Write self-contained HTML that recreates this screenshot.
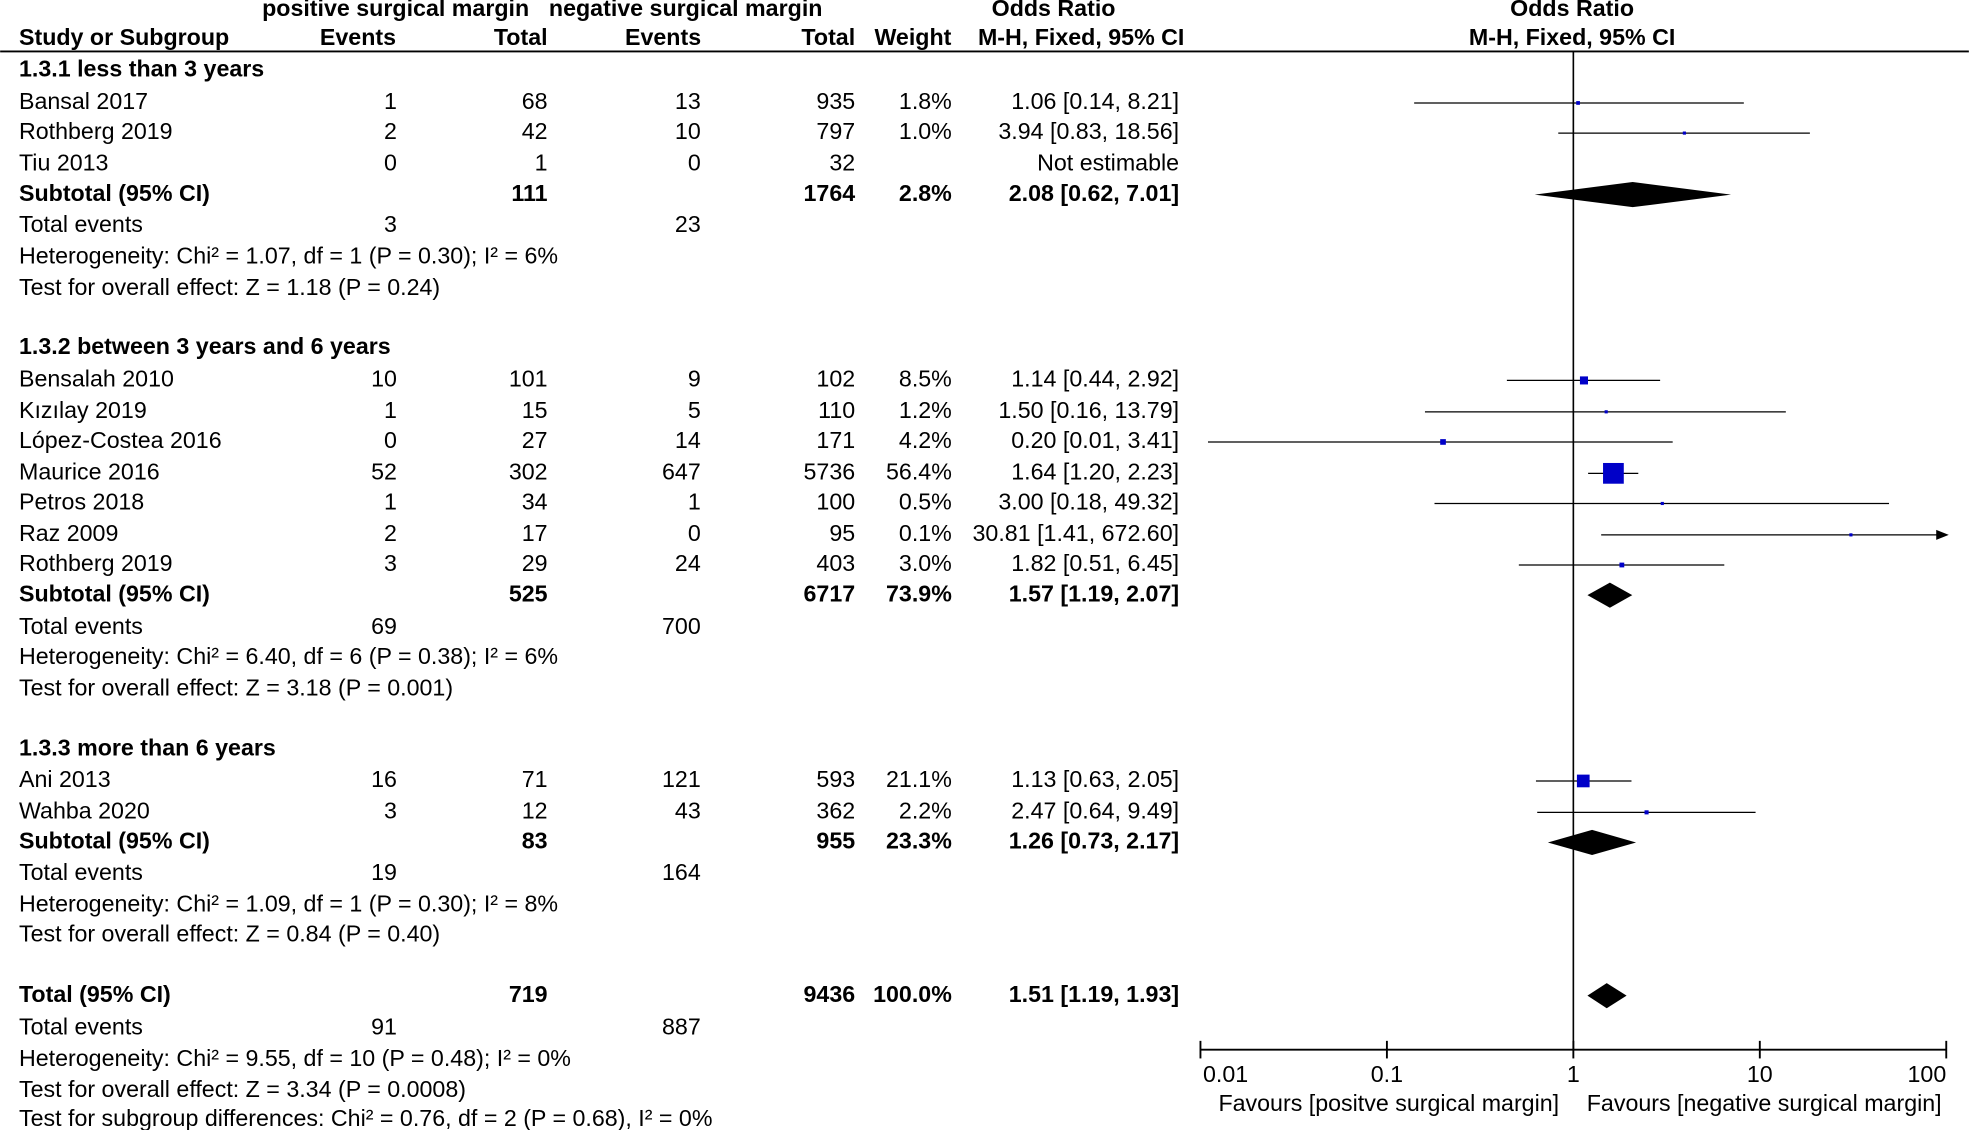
<!DOCTYPE html>
<html><head><meta charset="utf-8"><style>
html,body{margin:0;padding:0;background:#fff}
svg{display:block}
text{font-family:"Liberation Sans",Arial,sans-serif;font-size:18.5px;fill:#000;dominant-baseline:middle}
.b{font-weight:bold}
.r{text-anchor:end}
.c{text-anchor:middle}
</style></head><body>
<svg id="plot" width="1969" height="1130" viewBox="0 0 1568 900" xmlns="http://www.w3.org/2000/svg">
<g>
<text x="315" y="8" class="c b">positive surgical margin</text>
<text x="546" y="8" class="c b">negative surgical margin</text>
<text x="839" y="8" class="c b">Odds Ratio</text>
<text x="1252" y="8" class="c b">Odds Ratio</text>
<text x="15" y="31" class="b">Study or Subgroup</text>
<text x="285" y="31" class="c b">Events</text>
<text x="436" y="31" class="r b">Total</text>
<text x="528" y="31" class="c b">Events</text>
<text x="681" y="31" class="r b">Total</text>
<text x="727" y="31" class="c b">Weight</text>
<text x="861" y="31" class="c b">M-H, Fixed, 95% CI</text>
<text x="1252" y="31" class="c b">M-H, Fixed, 95% CI</text>
</g>
<line x1="0" y1="41" x2="1568" y2="41" stroke="#000" stroke-width="1.5"/>
<g id="table"></g>
<g id="marks"></g>
<g id="axis"></g>
<text x="1106" y="880" class="c">Favours [positve surgical margin]</text>
<text x="1405" y="880" class="c">Favours [negative surgical margin]</text>
</svg>
<script>
// type: h=heading, s=study, t=subtotal, e=total events, x=plain text
const rowType = ["h","s","s","s","t","e","x","x","h","s","s","s","s","s","s","s","t","e","x","x","h","s","s","t","e","x","x","t","e","x","x","x"];
const rowY = [56,82,106,131,155,180,205,230,277,303,328,352,377,401,426,450,474,500,524,549,597,622,647,671,696,721,745,793,819,844,869,892];
const labels = ["1.3.1 less than 3 years","Bansal 2017","Rothberg 2019","Tiu 2013","Subtotal (95% CI)","Total events","Heterogeneity: Chi² = 1.07, df = 1 (P = 0.30); I² = 6%","Test for overall effect: Z = 1.18 (P = 0.24)",
"1.3.2 between 3 years and 6 years","Bensalah 2010","Kızılay 2019","López-Costea 2016","Maurice 2016","Petros 2018","Raz 2009","Rothberg  2019","Subtotal (95% CI)","Total events","Heterogeneity: Chi² = 6.40, df = 6 (P = 0.38); I² = 6%","Test for overall effect: Z = 3.18 (P = 0.001)",
"1.3.3 more than 6 years","Ani 2013","Wahba 2020","Subtotal (95% CI)","Total events","Heterogeneity: Chi² = 1.09, df = 1 (P = 0.30); I² = 8%","Test for overall effect: Z = 0.84 (P = 0.40)",
"Total (95% CI)","Total events","Heterogeneity: Chi² = 9.55, df = 10 (P = 0.48); I² = 0%","Test for overall effect: Z = 3.34 (P = 0.0008)","Test for subgroup differences: Chi² = 0.76, df = 2 (P = 0.68), I² = 0%"];
const ev1 = ["","1","2","0","","3","","","","10","1","0","52","1","2","3","","69","","","","16","3","","19","","","","91","","",""];
const tot1 = ["","68","42","1","111","","","","","101","15","27","302","34","17","29","525","","","","","71","12","83","","","","719","","","",""];
const ev2 = ["","13","10","0","","23","","","","9","5","14","647","1","0","24","","700","","","","121","43","","164","","","","887","","",""];
const tot2 = ["","935","797","32","1764","","","","","102","110","171","5736","100","95","403","6717","","","","","593","362","955","","","","9436","","","",""];
const weight = [null,1.8,1.0,null,2.8,null,null,null,null,8.5,1.2,4.2,56.4,0.5,0.1,3.0,73.9,null,null,null,null,21.1,2.2,23.3,null,null,null,100.0,null,null,null,null];
const orVal = [null,1.06,3.94,null,2.08,null,null,null,null,1.14,1.50,0.20,1.64,3.00,30.81,1.82,1.57,null,null,null,null,1.13,2.47,1.26,null,null,null,1.51,null,null,null,null];
const ciLo = [null,0.14,0.83,null,0.62,null,null,null,null,0.44,0.16,0.01,1.20,0.18,1.41,0.51,1.19,null,null,null,null,0.63,0.64,0.73,null,null,null,1.19,null,null,null,null];
const ciHi = [null,8.21,18.56,null,7.01,null,null,null,null,2.92,13.79,3.41,2.23,49.32,672.60,6.45,2.07,null,null,null,null,2.05,9.49,2.17,null,null,null,1.93,null,null,null,null];
const ticks = [0.01,0.1,1,10,100];
const tickLabels = ["0.01","0.1","1","10","100"];

const NS="http://www.w3.org/2000/svg";
const X0=956,X1=1550,AXY=836;
function xs(v){return X0+(Math.log10(v)+2)/4*(X1-X0);}
function mk(tag,attrs,parent,txt){const e=document.createElementNS(NS,tag);for(const k in attrs)e.setAttribute(k,attrs[k]);if(txt!==undefined)e.textContent=txt;parent.appendChild(e);return e;}
const table=document.getElementById('table'),marks=document.getElementById('marks'),axis=document.getElementById('axis');
function fmt(v){return v.toFixed(2);}
for(let i=0;i<rowY.length;i++){
  const y=rowY[i],t=rowType[i],bold=(t==="h"||t==="t");
  const cls=bold?"b":"";
  let el=mk('text',{x:15,y:y,class:cls},table,labels[i]);
  
  
  const cols=[[ev1[i],316],[tot1[i],436],[ev2[i],558],[tot2[i],681]];
  for(const [v,x] of cols){ if(v){ el=mk('text',{x:x,y:y,class:'r '+cls},table,v);
    
    }}
  if(weight[i]!==null){ el=mk('text',{x:758,y:y,class:'r '+cls},table,weight[i].toFixed(1)+'%');
    
    }
  if(orVal[i]!==null){ el=mk('text',{x:939,y:y,class:'r '+cls},table,fmt(orVal[i])+' ['+fmt(ciLo[i])+', '+fmt(ciHi[i])+']');
    
    }
  else if(t==="s" && tot1[i] && weight[i]===null){ el=mk('text',{x:939,y:y,class:'r'},table,'Not estimable');
    
    }
  if(orVal[i]===null) continue;
  if(t==="s"){
    const lo=Math.max(xs(ciLo[i]),X0+6), hiRaw=xs(ciHi[i]), hi=Math.min(hiRaw,X1);
    el=mk('line',{x1:lo,y1:y,x2:hi,y2:y,stroke:'#000','stroke-width':1},marks);
    
    
    if(hiRaw>X1){ el=mk('path',{d:`M${X1-8},${y-4} L${X1+2},${y} L${X1-8},${y+4} Z`,fill:'#000'},marks);
      
      }
    const s=Math.max(2.5,2.2*Math.sqrt(weight[i])), cx=xs(orVal[i]);
    el=mk('rect',{x:cx-s/2,y:y-s/2,width:s,height:s,fill:'#0000c8'},marks);
    
    
  } else {
    const a=xs(ciLo[i]),b=xs(ciHi[i]),c=xs(orVal[i]);
    el=mk('path',{d:`M${a},${y} L${c},${y-10} L${b},${y} L${c},${y+10} Z`,fill:'#000'},marks);
    
    
  }
}
let el=mk('line',{x1:xs(1),y1:41,x2:xs(1),y2:AXY,stroke:'#000','stroke-width':1.3},axis);


el=mk('line',{x1:X0,y1:AXY,x2:X1,y2:AXY,stroke:'#000','stroke-width':1.5},axis);


ticks.forEach((v,k)=>{
  const x=xs(v);
  let t=mk('line',{x1:x,y1:AXY-7,x2:x,y2:AXY+7,stroke:'#000','stroke-width':1.5},axis);
  
  
  const anchor=k===0?'start':(k===ticks.length-1?'end':'middle');
  t=mk('text',{x:x+(k===0?2:0),y:AXY+21,'text-anchor':anchor},axis,tickLabels[k]);
  
  
});
</script>
</body></html>
